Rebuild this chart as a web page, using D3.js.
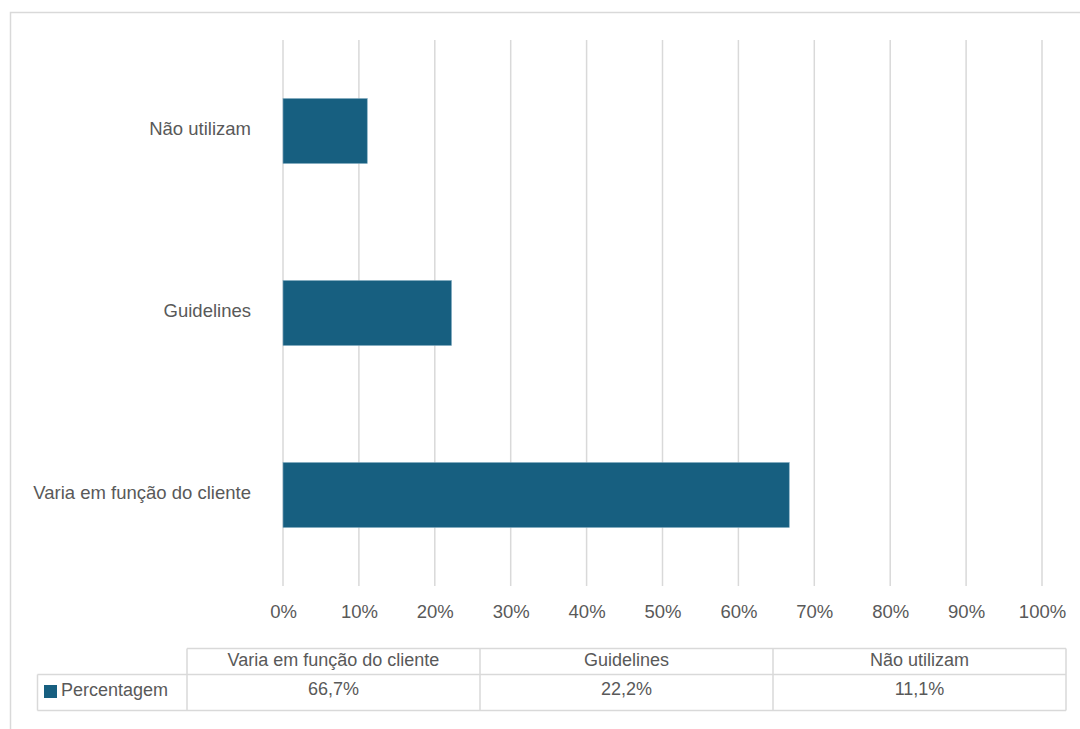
<!DOCTYPE html>
<html>
<head>
<meta charset="utf-8">
<script src="https://cdn.jsdelivr.net/npm/d3@7"></script>
<style>
  html, body { margin: 0; padding: 0; background: #fff; }
  svg { display: block; }
</style>
</head>
<body>
<svg id="chart" width="1080" height="729"></svg>
<script>
const categories = ["Varia em função do cliente", "Guidelines", "Não utilizam"];
const values = [66.7, 22.2, 11.1];
const valueLabels = ["66,7%", "22,2%", "11,1%"];
const seriesName = "Percentagem";
const xTicks = [0, 10, 20, 30, 40, 50, 60, 70, 80, 90, 100];

const barColor = "#175f80";
const gridColor = "#d9d9d9";
const textColor = "#595959";
const font = "'Liberation Sans Narrow', 'Arial Narrow', 'Liberation Sans', sans-serif";

const svg = d3.select("#chart");

// outer chart border
svg.append("rect")
  .attr("x", 10.5).attr("y", 12.5)
  .attr("width", 1100).attr("height", 800)
  .attr("fill", "none").attr("stroke", gridColor).attr("stroke-width", 1.5);

const x = d3.scaleLinear().domain([0, 100]).range([283, 1042]);
const y = d3.scaleBand()
  .domain(categories.slice().reverse())
  .range([40, 586])
  .paddingInner(0.643)
  .paddingOuter(0.3215);

// gridlines
svg.append("g").selectAll("line").data(xTicks).join("line")
  .attr("x1", d => x(d)).attr("x2", d => x(d))
  .attr("y1", 40).attr("y2", 586)
  .attr("stroke", gridColor).attr("stroke-width", 1.5);

// bars
svg.append("g").selectAll("rect").data(categories).join("rect")
  .attr("x", x(0))
  .attr("y", d => y(d))
  .attr("width", (d, i) => x(values[i]) - x(0))
  .attr("height", y.bandwidth())
  .attr("fill", barColor)
  .attr("stroke", "#7fa9bf").attr("stroke-width", 0.6);

// x tick labels
const xAxis = d3.axisBottom(x).tickValues(xTicks).tickFormat(d => d + "%").tickSize(0).tickPadding(0);
const gx = svg.append("g").attr("transform", "translate(0,605)").call(xAxis);
gx.select(".domain").remove();
gx.selectAll("text")
  .attr("dy", "0.71em")
  .attr("fill", textColor)
  .style("font-family", font).style("font-size", "18.5px");

// category labels
const yAxis = d3.axisLeft(y).tickSize(0).tickPadding(0);
const gy = svg.append("g").attr("transform", "translate(251,-2)").call(yAxis);
gy.select(".domain").remove();
gy.selectAll("text")
  .attr("fill", textColor)
  .style("font-family", font).style("font-size", "18.5px");

// data table
const tx = d3.scaleBand().domain(categories).range([187, 1066]);
const headTop = 648.5, rowSep = 674.5, bottom = 710.5, legLeft = 37.5;
const tbl = svg.append("g").attr("stroke", gridColor).attr("stroke-width", 1.5).attr("fill", "none");
tbl.append("line").attr("x1", 187).attr("x2", 1066).attr("y1", headTop).attr("y2", headTop);
tbl.append("line").attr("x1", legLeft).attr("x2", 1066).attr("y1", rowSep).attr("y2", rowSep);
tbl.append("line").attr("x1", legLeft).attr("x2", 1066).attr("y1", bottom).attr("y2", bottom);
tbl.append("line").attr("x1", legLeft).attr("x2", legLeft).attr("y1", rowSep).attr("y2", bottom);
tbl.selectAll("line.v").data(categories.concat(["end"])).join("line")
  .attr("class", "v")
  .attr("x1", (d, i) => i < categories.length ? tx(d) : tx.range()[1])
  .attr("x2", (d, i) => i < categories.length ? tx(d) : tx.range()[1])
  .attr("y1", headTop).attr("y2", bottom);

svg.append("g").selectAll("text").data(categories).join("text")
  .attr("x", d => tx(d) + tx.bandwidth() / 2)
  .attr("y", 660).attr("dy", "0.35em")
  .attr("text-anchor", "middle")
  .attr("fill", textColor)
  .style("font-family", font).style("font-size", "18px")
  .text(d => d);

svg.append("g").selectAll("text").data(categories).join("text")
  .attr("x", d => tx(d) + tx.bandwidth() / 2)
  .attr("y", 689).attr("dy", "0.35em")
  .attr("text-anchor", "middle")
  .attr("fill", textColor)
  .style("font-family", font).style("font-size", "18px")
  .text((d, i) => valueLabels[i]);

// legend key
svg.append("rect").attr("x", 44).attr("y", 685).attr("width", 13).attr("height", 13).attr("fill", barColor);
svg.append("text").attr("x", 61).attr("y", 690).attr("dy", "0.35em")
  .attr("fill", textColor)
  .style("font-family", font).style("font-size", "18px")
  .text(seriesName);
</script>
</body>
</html>
